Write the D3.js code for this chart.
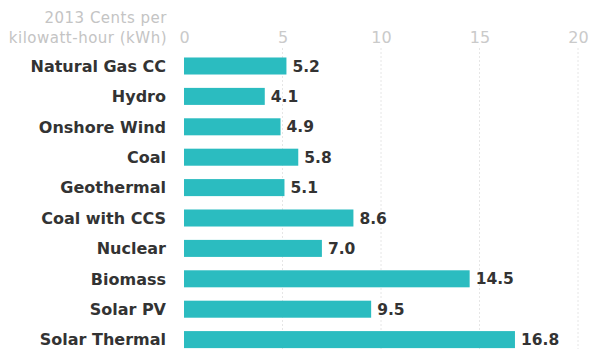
<!DOCTYPE html>
<html><head><meta charset="utf-8">
<script src="https://cdn.jsdelivr.net/npm/d3@7"></script>
<style>
html,body{margin:0;padding:0;background:#fff;}
svg{display:block;}
</style></head>
<body>
<script>
const categories = ["Natural Gas CC","Hydro","Onshore Wind","Coal","Geothermal","Coal with CCS","Nuclear","Biomass","Solar PV","Solar Thermal"];
const values = [5.2,4.1,4.9,5.8,5.1,8.6,7.0,14.5,9.5,16.8];
const tickValues = [0,5,10,15,20];
const titleLines = ["2013 Cents per","kilowatt-hour (kWh)"];

const W = 590, H = 349;
const FONT = "'DejaVu Sans', Verdana, sans-serif";
const svg = d3.select("body").append("svg").attr("width", W).attr("height", H);

const x = d3.scaleLinear().domain([0,20]).range([184,578]);
const step = 30.4;
const y = d3.scaleBand().domain(categories)
  .range([66 - step/2, 66 - step/2 + step*categories.length])
  .paddingInner(0.44).paddingOuter(0.22);

// gridlines
svg.append("g").selectAll("line").data(tickValues.filter(d=>d>0)).join("line")
  .attr("x1", d=>x(d)).attr("x2", d=>x(d))
  .attr("y1", 48).attr("y2", H)
  .attr("stroke", "#e6e6e6").attr("stroke-width", 1)
  .attr("stroke-dasharray", "2,2");

// axis ticks
const axis = svg.append("g").attr("transform","translate(0,43)")
  .call(d3.axisTop(x).tickValues(tickValues).tickSize(0).tickPadding(0).tickFormat(d3.format("d")));
axis.select(".domain").remove();
axis.selectAll("text").attr("fill","#cacaca").attr("font-family", FONT)
  .attr("font-size", 16).attr("dy","0em").attr("y",0);

// title
svg.append("g").selectAll("text").data(titleLines).join("text")
  .attr("x", 167).attr("y", (d,i)=> 23 + i*19.5)
  .attr("text-anchor","end")
  .attr("fill","#c4c4c4")
  .attr("font-family", FONT)
  .attr("font-size", 15)
  .attr("letter-spacing", 0.5)
  .text(d=>d);

// bars
svg.append("g").selectAll("rect").data(values).join("rect")
  .attr("x", x(0))
  .attr("y", (d,i)=> y(categories[i]))
  .attr("width", d=> x(d)-x(0))
  .attr("height", y.bandwidth())
  .attr("fill", "#2bbcc0");

// category labels
svg.append("g").selectAll("text").data(categories).join("text")
  .attr("x", 166)
  .attr("y", d=> y(d) + y.bandwidth()/2)
  .attr("dy","0.36em")
  .attr("text-anchor","end")
  .attr("fill","#333333")
  .attr("font-family", FONT)
  .attr("font-weight", 700)
  .attr("font-size", 16)
  .text(d=>d);

// value labels
svg.append("g").selectAll("text").data(values).join("text")
  .attr("x", d=> x(d) + 6)
  .attr("y", (d,i)=> y(categories[i]) + y.bandwidth()/2)
  .attr("dy","0.36em")
  .attr("fill","#333333")
  .attr("font-family", FONT)
  .attr("font-weight", 700)
  .attr("font-size", 15.5)
  .text(d=> d.toFixed(1));
</script>
</body></html>
